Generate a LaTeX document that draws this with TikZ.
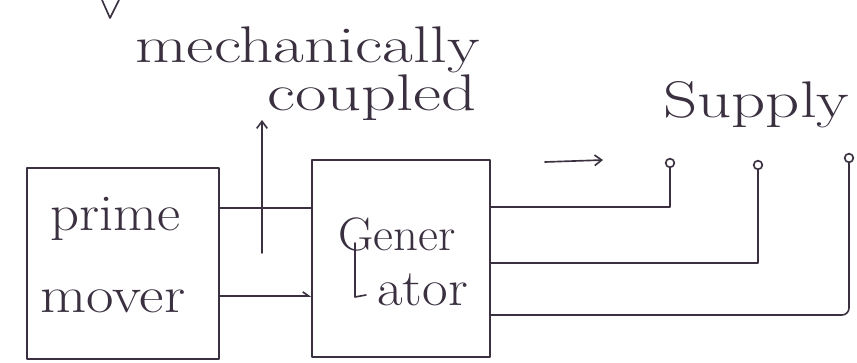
\documentclass[tikz,border=0pt]{standalone}
\usetikzlibrary{arrows.meta,fit}
\definecolor{ink}{RGB}{58,48,64}
% widen a piece of text horizontally
\newcommand{\widetext}[2]{\scalebox{#1}[1]{#2}}
\tikzset{
  pen/.style={draw=ink, line width=1.4pt, line cap=round, line join=round},
  blockbox/.style={pen, inner sep=0pt},
  label/.style={text=ink, inner sep=0pt, anchor=base west,
    font=\fontsize{44}{50}\selectfont},
  terminal/.style={pen, circle, inner sep=0pt, minimum size=0.26cm},
  tip/.style={-{Straight Barb[length=6pt,width=9pt]}},
}
\begin{document}
\begin{tikzpicture}[x=0.03cm, y=-0.03cm]
  \useasboundingbox (0,0) rectangle (857,363);

  % stroke left over at the top edge
  \draw[pen] (102,0) -- (110,18) -- (119,0);

  % the two blocks
  \node[blockbox, fit={(27,168) (219,359)}] (pm) {};
  \node[blockbox, fit={(312,160) (490,357)}] (gen) {};

  % block texts
  \node[label] (t-prime) at (50,230) {\widetext{1.1}{prime}};
  \node[label] (t-mover) at (40,312) {\widetext{1.16}{mover}};
  \node[label, font=\fontsize{40}{46}\selectfont] (t-gener) at (338,250) {\widetext{1.04}{Gener}};
  \node[label] (t-ator) at (377,305) {\widetext{1.08}{ator}};
  \draw[pen] (355,243) -- (355,297) -- (366,295);

  % shaft between prime mover and generator
  \coordinate (ya) at (0,208);
  \coordinate (yb) at (0,296);
  \draw[pen] (pm.east |- ya) -- (gen.west |- ya);
  \draw[pen, -{Straight Barb[left,length=5pt,width=7pt]}] (pm.east |- yb) -- (gen.west |- yb);

  % coupling arrow and its label
  \coordinate (ca) at (262,253);
  \coordinate (cb) at (262,120);
  \draw[pen, tip] (ca) -- (cb);
  \node[label] (t-mech) at (135,62) {\widetext{1.3}{mechanically}};
  \node[label] (t-coup) at (267,110) {\widetext{1.33}{coupled}};

  % supply side
  \node[label] (t-supply) at (663,117) {\widetext{1.3}{Supply}};
  \coordinate (sa) at (545,162);
  \coordinate (sb) at (603,160);
  \draw[pen, tip] (sa) -- (sb);

  \node[terminal] (s1) at (670,163) {};
  \node[terminal] (s2) at (758,165) {};
  \node[terminal] (s3) at (849,158) {};

  \coordinate (o1) at (0,207);
  \coordinate (o2) at (0,263);
  \coordinate (o3) at (0,315);
  \draw[pen] (gen.east |- o1) -| (s1.south);
  \draw[pen] (gen.east |- o2) -| (s2.south);
  \draw[pen, rounded corners=6pt] (gen.east |- o3) -| (s3.south);
\end{tikzpicture}
\end{document}
